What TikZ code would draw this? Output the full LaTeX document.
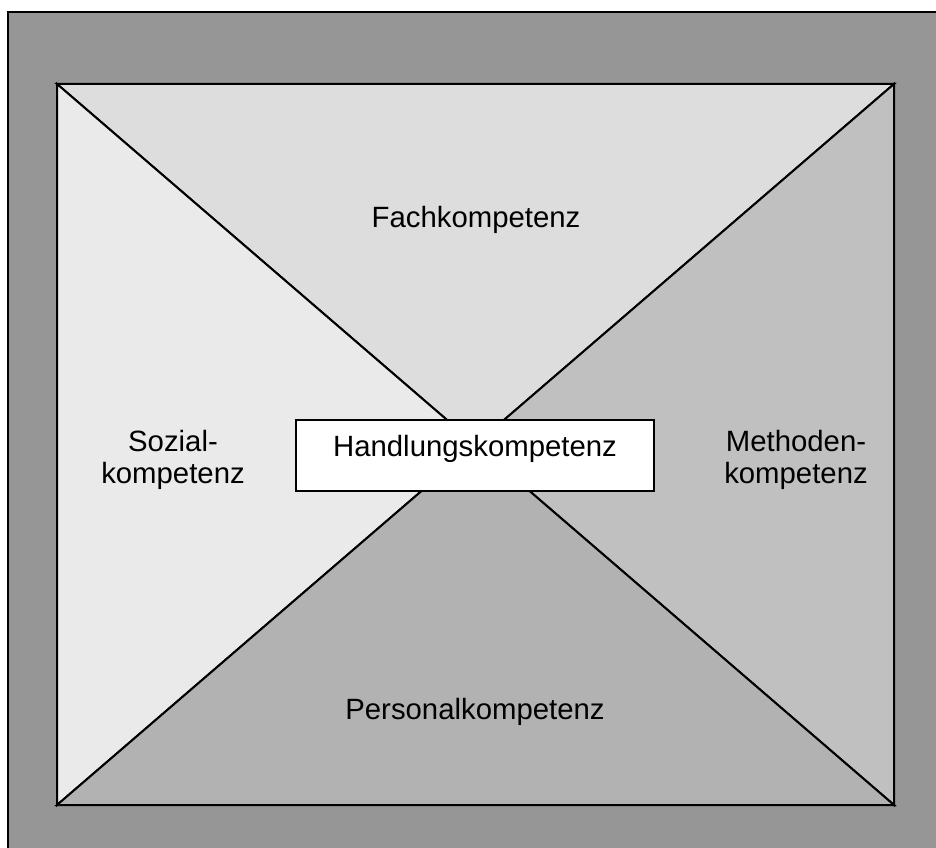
\documentclass[tikz,border=0pt]{standalone}
\usepackage{fontspec}
\setmainfont{Liberation Sans}

\definecolor{framegray}{gray}{0.59}
\definecolor{fachgray}{gray}{0.867}
\definecolor{sozialgray}{gray}{0.918}
\definecolor{methodengray}{gray}{0.753}
\definecolor{personalgray}{gray}{0.698}

\begin{document}
\begin{tikzpicture}[x=0.75pt,y=-0.75pt,
  facet/.style={draw=black, line width=1.5pt, line join=miter},
  lbl/.style={font=\fontsize{22}{23.5}\selectfont, align=center}]

\useasboundingbox (0,0) rectangle (936,848);
\clip (0,0) rectangle (936,848);
\filldraw[fill=framegray, line width=1.5pt] (8,12) rectangle (950,860);

\coordinate (tl) at (57,84);
\coordinate (tr) at (894,84);
\coordinate (br) at (894,805);
\coordinate (bl) at (57,805);
\coordinate (c) at (intersection of tl--br and tr--bl);

\filldraw[facet, fill=fachgray] (tl) -- (tr) -- (c) -- cycle;
\filldraw[facet, fill=sozialgray] (tl) -- (bl) -- (c) -- cycle;
\filldraw[facet, fill=methodengray] (tr) -- (br) -- (c) -- cycle;
\filldraw[facet, fill=personalgray] (bl) -- (br) -- (c) -- cycle;
\draw[facet] (tl) rectangle (br);

\node[lbl, draw, fill=white, line width=1.5pt, minimum width=268pt, minimum height=53pt,
  text height=9pt, text depth=7pt] (hk) at (475,455.5) {Handlungskompetenz};

\node[lbl] (fach) at (476,220) {Fachkompetenz};
\node[lbl] (sozial) at (173,460) {Sozial-\\kompetenz};
\node[lbl] (methoden) at (796,460) {Methoden-\\kompetenz};
\node[lbl] (personal) at (475,712) {Personalkompetenz};

\end{tikzpicture}
\end{document}
